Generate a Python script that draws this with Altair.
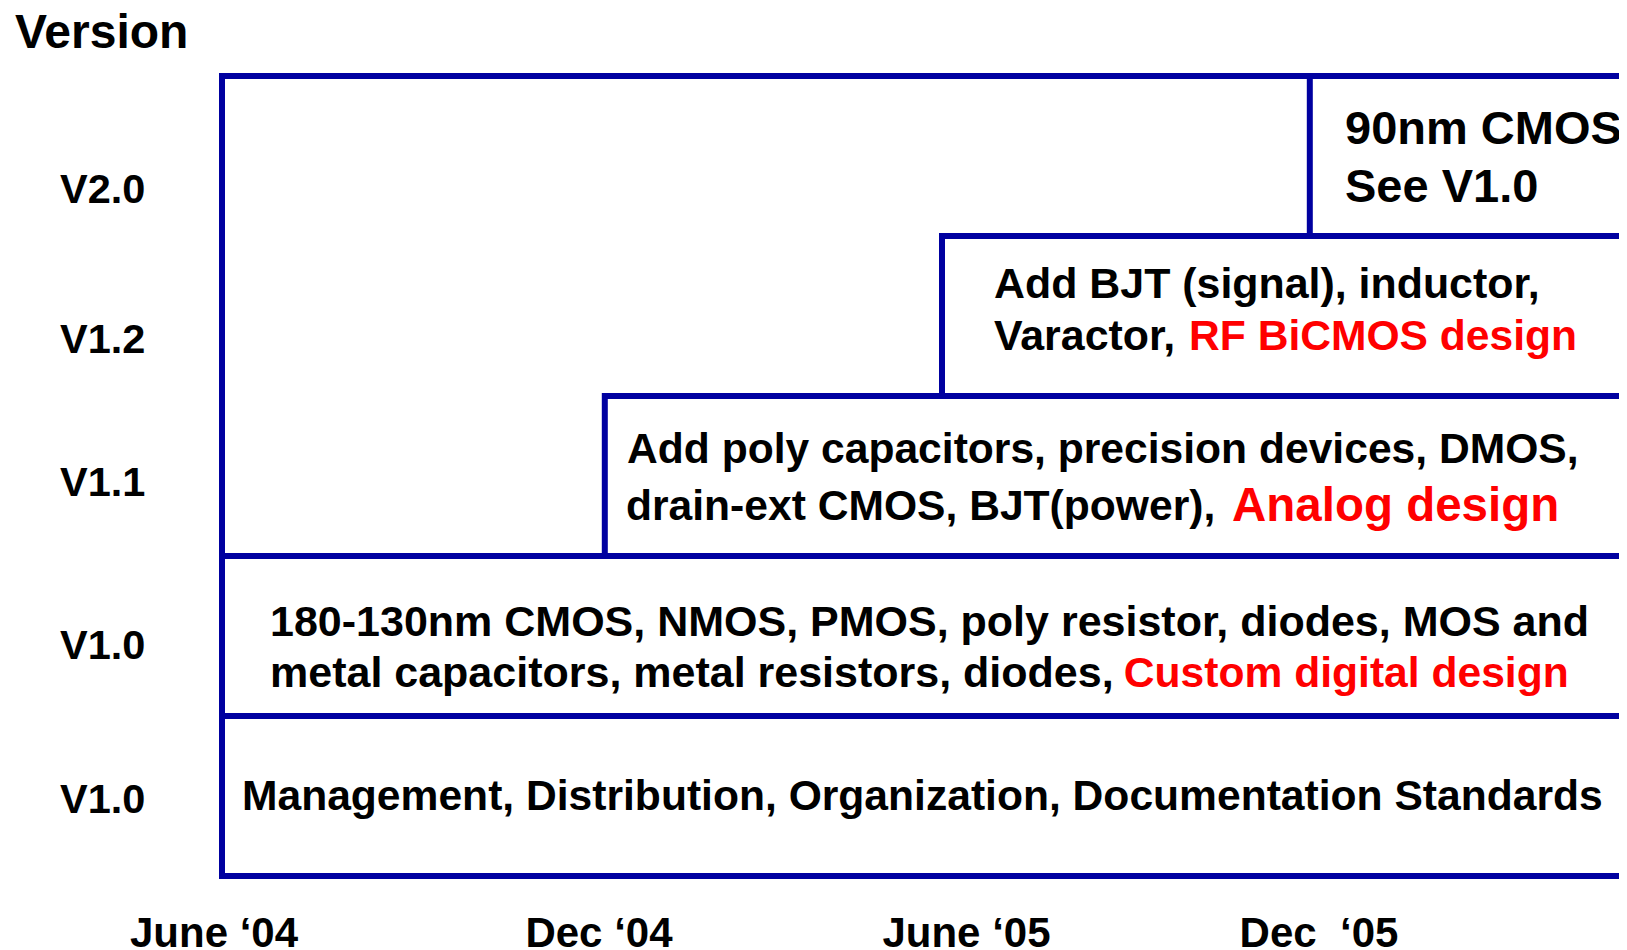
import altair as alt
import pandas as pd

# ---- data (x in months after June '04, y in version-row units) ----
row_labels = ["V1.0", "V1.0", "V1.1", "V1.2", "V2.0"]
row_label_x = [-2.7, -2.7, -2.7, -2.7, -2.7]
row_label_y = [0.394, 1.356, 2.375, 3.269, 4.206]

band_start = [0.0, 0.0, 6.38, 12.0, 18.13]   # month each band begins
band_row = [0, 1, 2, 3, 4]

tick_labels = ["June \u201804", "Dec \u201804", "June \u201805", "Dec \u00a0\u201805"]
tick_pos = [-0.133, 6.283, 12.408, 18.283]
tick_y = -0.444

seg_text = [
    "Management, Distribution, Organization, Documentation Standards",
    "180-130nm CMOS, NMOS, PMOS, poly resistor, diodes, MOS and",
    "metal capacitors, metal resistors, diodes,",
    "Custom digital design",
    "Add poly capacitors, precision devices, DMOS,",
    "drain-ext CMOS, BJT(power),",
    "Analog design",
    "Add BJT (signal), inductor,",
    "Varactor,",
    "RF BiCMOS design",
    "90nm CMOS",
    "See V1.0",
]
seg_x = [0.333, 0.8, 0.8, 15.03, 6.75, 6.733, 16.833, 12.867, 12.867, 16.117, 18.717, 18.717]
seg_y = [0.4125, 1.5, 1.181, 1.181, 2.581, 2.225, 2.219, 3.6125, 3.2875, 3.2875, 4.575, 4.2125]
seg_color = ["#000000", "#000000", "#000000", "#FF0000", "#000000", "#000000", "#FF0000",
             "#000000", "#000000", "#FF0000", "#000000", "#000000"]
seg_size = [42.6, 43.0, 43.0, 42.6, 42.6, 42.6, 47.5, 42.9, 42.9, 42.6, 47.0, 47.0]

axis_title = "Version"
axis_title_x = -3.45
axis_title_y = 5.175

# ---- tables ----
bands = pd.DataFrame({
    "x": band_start + [0.0],
    "x2": [25.0] * 6,
    "y": band_row + [0],
    "y2": [r + 1 for r in band_row] + [5],
})
segs = pd.DataFrame({"text": seg_text, "x": seg_x, "y": seg_y, "color": seg_color, "size": seg_size})
rows = pd.DataFrame({"text": row_labels + [axis_title],
                     "x": row_label_x + [axis_title_x],
                     "y": row_label_y + [axis_title_y],
                     "size": [41.5] * 5 + [48.0]})
ticks = pd.DataFrame({"text": tick_labels, "x": tick_pos, "y": [tick_y] * 4})

xs = alt.Scale(domain=[0, 23.2833], nice=False, zero=False)
ys = alt.Scale(domain=[0, 5], nice=False, zero=False)
FONT = "Liberation Sans"
BLUE = "#0000A0"

rects = alt.Chart(bands).mark_rect(fillOpacity=0, stroke=BLUE, strokeWidth=6).encode(
    x=alt.X("x:Q", scale=xs, axis=None),
    x2="x2:Q",
    y=alt.Y("y:Q", scale=ys, axis=None),
    y2="y2:Q",
)

seg_layer = alt.Chart(segs).mark_text(align="left", baseline="alphabetic", font=FONT,
                                      fontWeight="bold").encode(
    x=alt.X("x:Q", scale=xs, axis=None),
    y=alt.Y("y:Q", scale=ys, axis=None),
    text="text:N",
    color=alt.Color("color:N", scale=None),
    size=alt.Size("size:Q", scale=None),
)

row_layer = alt.Chart(rows).mark_text(align="left", baseline="alphabetic", font=FONT,
                                      fontWeight="bold", color="#000000").encode(
    x=alt.X("x:Q", scale=xs, axis=None),
    y=alt.Y("y:Q", scale=ys, axis=None),
    text="text:N",
    size=alt.Size("size:Q", scale=None),
)

tick_layer = alt.Chart(ticks).mark_text(align="center", baseline="alphabetic", font=FONT,
                                        fontWeight="bold", fontSize=42, color="#000000").encode(
    x=alt.X("x:Q", scale=xs, axis=None),
    y=alt.Y("y:Q", scale=ys, axis=None),
    text="text:N",
)

chart = alt.layer(rects, seg_layer, row_layer, tick_layer).properties(
    width=1397,
    height=800,
    autosize=alt.AutoSizeParams(type="none"),
    padding={"left": 214, "top": 68, "right": 0, "bottom": 74},
    background="#FFFFFF",
).configure_view(strokeWidth=0)

chart.save("out.html", embed_options={"renderer": "svg", "actions": False})
